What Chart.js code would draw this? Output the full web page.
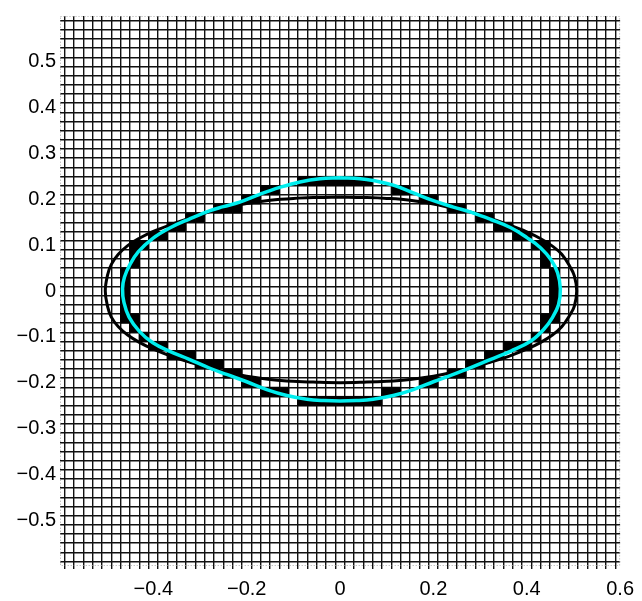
<!DOCTYPE html>
<html lang="en">
<head>
  <meta charset="UTF-8">
  <title>Pixel boundary and fitted contour</title>
  <script src="https://cdn.jsdelivr.net/npm/chart.js"></script>
  <style>
    html, body { margin: 0; padding: 0; background: #fff; }
    canvas { display: block; }
  </style>
</head>
<body>
  <canvas id="boundaryChart" width="642" height="601"></canvas>
  <script>
    // tick labels
    const xTicks = [-0.4, -0.2, 0, 0.2, 0.4, 0.6];
    const yTicks = [-0.5, -0.4, -0.3, -0.2, -0.1, 0, 0.1, 0.2, 0.3, 0.4, 0.5];
    const cellSize = 0.02;

    // black ellipse, clockwise from the top centre
    const ellipseX = [0, 0.05, 0.1, 0.15, 0.2, 0.24, 0.28, 0.32, 0.36, 0.4, 0.43, 0.455, 0.475, 0.492, 0.502, 0.507,
                      0.502, 0.492, 0.475, 0.455, 0.43, 0.4, 0.36, 0.32, 0.28, 0.24, 0.2, 0.15, 0.1, 0.05, 0,
                      -0.05, -0.1, -0.15, -0.2, -0.24, -0.28, -0.32, -0.36, -0.4, -0.43, -0.455, -0.475, -0.49, -0.498, -0.503,
                      -0.498, -0.49, -0.475, -0.455, -0.43, -0.4, -0.36, -0.32, -0.28, -0.24, -0.2, -0.15, -0.1, -0.05, 0];
    const ellipseY = [0.205, 0.204, 0.202, 0.198, 0.19, 0.181, 0.172, 0.159, 0.145, 0.129, 0.114, 0.098, 0.08, 0.054, 0.033, 0,
                      -0.033, -0.053, -0.078, -0.096, -0.112, -0.127, -0.143, -0.156, -0.168, -0.178, -0.186, -0.193, -0.197, -0.199, -0.2,
                      -0.199, -0.197, -0.193, -0.186, -0.178, -0.168, -0.156, -0.143, -0.127, -0.112, -0.096, -0.078, -0.057, -0.034, 0,
                      0.035, 0.058, 0.08, 0.099, 0.115, 0.13, 0.146, 0.16, 0.173, 0.183, 0.191, 0.198, 0.202, 0.204, 0.205];

    // cyan fitted contour, clockwise from the top centre
    const fitX = [0, 0.043, 0.071, 0.114, 0.157, 0.2, 0.243, 0.28, 0.323, 0.366, 0.401, 0.43, 0.452, 0.466, 0.472,
                  0.468, 0.455, 0.437, 0.409, 0.366, 0.323, 0.28, 0.237, 0.2, 0.157, 0.114, 0.071, 0.035, 0,
                  -0.035, -0.071, -0.114, -0.157, -0.2, -0.243, -0.28, -0.323, -0.366, -0.401, -0.43, -0.452, -0.463,
                  -0.466, -0.462, -0.45, -0.432, -0.401, -0.366, -0.323, -0.28, -0.25, -0.215, -0.172, -0.129, -0.086, -0.043, 0];
    const fitY = [0.247, 0.245, 0.241, 0.231, 0.214, 0.197, 0.183, 0.172, 0.156, 0.138, 0.116, 0.094, 0.068, 0.04, 0.005,
                  -0.03, -0.058, -0.083, -0.109, -0.131, -0.149, -0.167, -0.184, -0.198, -0.215, -0.228, -0.236, -0.239, -0.24,
                  -0.239, -0.236, -0.228, -0.215, -0.198, -0.182, -0.168, -0.149, -0.131, -0.113, -0.088, -0.057, -0.025,
                  0.005, 0.03, 0.058, 0.086, 0.115, 0.137, 0.157, 0.175, 0.184, 0.194, 0.211, 0.226, 0.238, 0.245, 0.247];

    // filled boundary cells: row index and the column indices in that row (cell units)
    const cellRows = [12, 11, 10, 9, 8, 7, 6, 5, 4, 3, 2, 1, 0, -1, -2, -3, -4, -5, -6, -7, -8, -9, -10, -11, -12];
    const cellCols = [
      [-4, -3, -2, -1, 0, 1, 2, 3],
      [-8, -7, 6, 7],
      [-10, -9, 9, 10],
      [-13, -12, -11, 12, 13],
      [-16, -15, 15, 16],
      [-18, -17, 17, 18],
      [-20, -19, 19, 20],
      [-22, -21, 21, 22],
      [-22, 22],
      [-22, 22],
      [-23, 23],
      [-23, 23],
      [-23, 23],
      [-23, 23],
      [-23, 23],
      [-23, -22, 22, 23],
      [-22, 22],
      [-21, 21],
      [-20, -19, 18, 19, 20],
      [-18, -17, -16, 16, 17],
      [-15, -14, -13, 14, 15],
      [-12, -11, 12, 13],
      [-10, -9, 9, 10],
      [-8, -7, -6, 5, 6],
      [-4, -3, -2, -1, 0, 1, 2, 3, 4]
    ];

    // grid lines sit between cell centres
    const gridLines = [];
    for (let k = -30; k < 30; k++) gridLines.push((2 * k + 1) / 100);

    const toPoints = (xs, ys) => xs.map((x, i) => ({ x: x, y: ys[i] }));
    const fmt = v => v === 0 ? '0' : (v < 0 ? '\u2212' + Math.abs(v) : String(v));
    const font = { family: '"Liberation Sans", Arial, sans-serif', size: 20 };

    const cellSets = [];
    cellRows.forEach((row, r) => {
      cellCols[r].forEach(col => {
        const cx = col * cellSize, cy = row * cellSize, h = cellSize / 2;
        cellSets.push({
          data: [{x: cx - h, y: cy - h}, {x: cx + h, y: cy - h}, {x: cx + h, y: cy + h}, {x: cx - h, y: cy + h}, {x: cx - h, y: cy - h}],
          showLine: true,
          borderColor: '#000',
          borderWidth: 1,
          backgroundColor: '#000',
          fill: 'shape',
          tension: 0
        });
      });
    });

    const frame = {
      id: 'frame',
      beforeDatasetsDraw(chart) {
        const { ctx, chartArea: a } = chart;
        ctx.save();
        ctx.strokeStyle = '#aaa';
        ctx.lineWidth = 1;
        ctx.setLineDash([1, 2]);
        ctx.strokeRect(a.left + 0.5, a.top + 0.5, a.right - a.left - 1, a.bottom - a.top - 1);
        ctx.restore();
      }
    };

    const ctx = document.getElementById('boundaryChart').getContext('2d');
    new Chart(ctx, {
      type: 'scatter',
      data: {
        datasets: [
          {
            data: toPoints(fitX, fitY),
            showLine: true,
            borderColor: '#00eeee',
            borderWidth: 3.5,
            tension: 0.4,
            fill: false
          },
          {
            data: toPoints(ellipseX, ellipseY),
            showLine: true,
            borderColor: '#000',
            borderWidth: 3,
            tension: 0.4,
            fill: false
          },
          ...cellSets
        ]
      },
      plugins: [frame],
      options: {
        responsive: false,
        animation: false,
        devicePixelRatio: 1,
        layout: { padding: { left: 0, top: 7, right: 21, bottom: 0 } },
        elements: { point: { radius: 0, hoverRadius: 0 } },
        plugins: { legend: { display: false }, tooltip: { enabled: false } },
        scales: {
          x: {
            type: 'linear',
            position: 'bottom',
            min: -0.6,
            max: 0.6,
            afterBuildTicks: s => {
              s.ticks = gridLines.concat(xTicks).sort((a, b) => a - b).map(v => ({ value: v }));
            },
            afterFit: s => { s.height = 35; },
            border: { display: false },
            grid: {
              color: c => (c.tick && xTicks.includes(c.tick.value)) ? 'rgba(0,0,0,0)' : '#111',
              lineWidth: 1.4,
              tickLength: 3
            },
            ticks: {
              autoSkip: false,
              maxRotation: 0,
              padding: 8,
              color: '#000',
              font: font,
              callback: v => xTicks.includes(v) ? fmt(v) : ''
            }
          },
          y: {
            type: 'linear',
            position: 'left',
            min: -0.6,
            max: 0.6,
            afterBuildTicks: s => {
              s.ticks = gridLines.concat(yTicks).sort((a, b) => a - b).map(v => ({ value: v }));
            },
            afterFit: s => { s.width = 60; },
            border: { display: false },
            grid: {
              color: c => (c.tick && yTicks.includes(c.tick.value)) ? 'rgba(0,0,0,0)' : '#111',
              lineWidth: 1.4,
              drawTicks: false
            },
            ticks: {
              autoSkip: false,
              padding: 4,
              color: '#000',
              font: font,
              callback: v => yTicks.includes(v) ? fmt(v) : ''
            }
          }
        }
      }
    });
  </script>
</body>
</html>
